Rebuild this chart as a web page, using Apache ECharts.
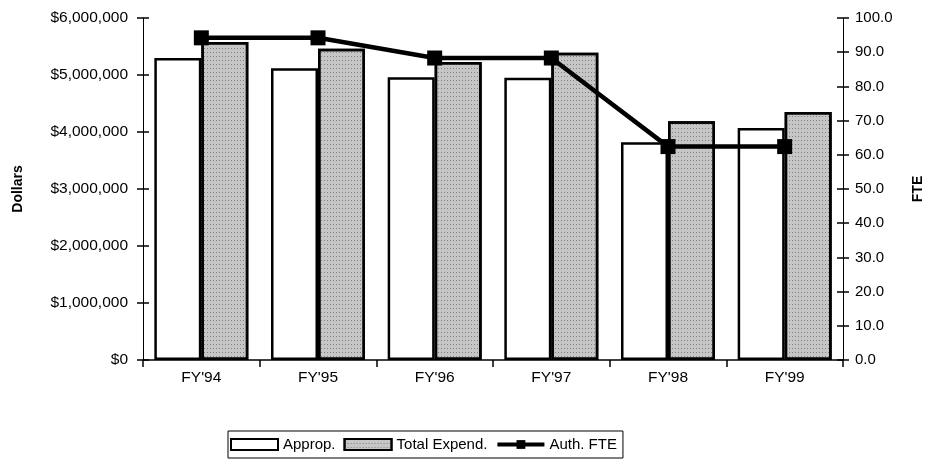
<!DOCTYPE html>
<html>
<head>
<meta charset="utf-8">
<script src="https://cdn.jsdelivr.net/npm/echarts@6/dist/echarts.min.js"></script>
<style>
  html, body { margin: 0; padding: 0; background: #fff; }
  #chart { width: 930px; height: 466px; }
</style>
</head>
<body>
<div id="chart"></div>
<script>
// data
const years = ["FY'94", "FY'95", "FY'96", "FY'97", "FY'98", "FY'99"];
const approp = [5300000, 5120000, 4960000, 4950000, 3820000, 4070000];
const totalExpend = [5580000, 5460000, 5230000, 5390000, 4190000, 4350000];
const authFte = [94.2, 94.2, 88.3, 88.3, 62.4, 62.4];

const font = 'Liberation Sans, Arial, sans-serif';
const chart = echarts.init(document.getElementById('chart'));

const dollarFmt = v => v === 0 ? '$0' : '$' + v.toLocaleString('en-US');

const option = {
  animation: false,
  textStyle: { fontFamily: font, color: '#000' },
  grid: { left: 143, right: 87, top: 18, bottom: 106, outerBoundsMode: 'none' },
  legend: {
    top: 431,
    left: 228,
    itemGap: 8,
    itemWidth: 47,
    itemHeight: 11,
    borderColor: '#000',
    borderWidth: 1,
    borderRadius: 0,
    padding: [6, 6, 6, 2],
    textStyle: { fontFamily: font, fontSize: 15, color: '#000' },
    data: [
      { name: 'Approp.', icon: 'rect' },
      { name: 'Total Expend.', icon: 'rect' },
      { name: 'Auth. FTE', lineStyle: { width: 4 } }
    ]
  },
  xAxis: {
    type: 'category',
    data: years,
    axisLine: { lineStyle: { color: '#000', width: 1.5 } },
    axisTick: { show: true, length: 7, lineStyle: { color: '#000', width: 1.5 } },
    axisLabel: { fontSize: 15.5, color: '#000', margin: 10 },
    splitLine: { show: false }
  },
  yAxis: [
    {
      type: 'value', min: 0, max: 6000000, interval: 1000000,
      name: 'Dollars', nameLocation: 'middle', nameRotate: 90, nameGap: 118,
      nameTextStyle: { fontWeight: 'bold', fontSize: 14, color: '#000' },
      axisLine: { show: true, lineStyle: { color: '#000', width: 1 } },
      axisTick: { show: true, length: 6, lineStyle: { color: '#000', width: 1.5 } },
      axisLabel: { formatter: dollarFmt, fontSize: 15.5, color: '#000', margin: 15 },
      splitLine: { show: false }
    },
    {
      type: 'value', min: 0, max: 100, interval: 10, position: 'right',
      name: 'FTE', nameLocation: 'middle', nameRotate: 90, nameGap: 68,
      nameTextStyle: { fontWeight: 'bold', fontSize: 14, color: '#000' },
      axisLine: { show: true, lineStyle: { color: '#000', width: 1 } },
      axisTick: { show: true, length: 6, lineStyle: { color: '#000', width: 1.5 } },
      axisLabel: { formatter: v => v.toFixed(1), fontSize: 15, color: '#000', margin: 12 },
      splitLine: { show: false }
    },
    {
      // inside half of the crossing ticks (left)
      type: 'value', min: 0, max: 6000000, interval: 1000000, position: 'left',
      axisLine: { show: false },
      axisTick: { show: true, inside: true, length: 6, lineStyle: { color: '#000', width: 1.5 } },
      axisLabel: { show: false }, splitLine: { show: false }
    },
    {
      // inside half of the crossing ticks (right)
      type: 'value', min: 0, max: 100, interval: 10, position: 'right',
      axisLine: { show: false },
      axisTick: { show: true, inside: true, length: 6, lineStyle: { color: '#000', width: 1.5 } },
      axisLabel: { show: false }, splitLine: { show: false }
    }
  ],
  series: [
    {
      name: 'Approp.',
      type: 'bar',
      yAxisIndex: 0,
      data: approp,
      barWidth: 47,
      barGap: '0%',
      itemStyle: { color: '#fff', borderColor: '#000', borderWidth: 2.5 }
    },
    {
      name: 'Total Expend.',
      type: 'bar',
      yAxisIndex: 0,
      data: totalExpend,
      barWidth: 47,
      barGap: '0%',
      itemStyle: {
        color: '#c6c6c6',
        borderColor: '#000',
        borderWidth: 2.5,
        decal: {
          symbol: 'rect',
          symbolSize: 1,
          color: 'rgba(60,60,60,0.5)',
          dashArrayX: [1, 2],
          dashArrayY: [1, 3],
          rotation: 0
        }
      }
    },
    {
      name: 'Auth. FTE',
      type: 'line',
      yAxisIndex: 1,
      data: authFte,
      symbol: 'rect',
      symbolSize: 15,
      lineStyle: { color: '#000', width: 4.5 },
      itemStyle: { color: '#000' },
      z: 5
    }
  ]
};

chart.setOption(option);
</script>
</body>
</html>
